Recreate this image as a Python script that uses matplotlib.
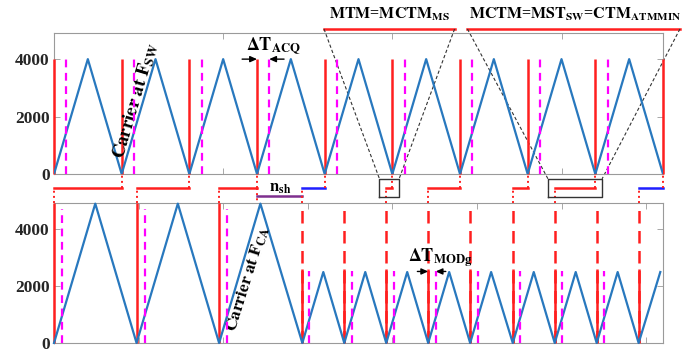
"""Carrier timing: switching carrier (F_SW) vs. control carrier (F_CA) with sampling instants."""

import matplotlib.pyplot as plt
import numpy as np

plt.rcParams["font.family"] = "Liberation Serif"
plt.rcParams["mathtext.fontset"] = "stix"

# time axis is in switching periods (1 unit = one F_SW carrier period)
T_END = 9.0
Y_MAX = 4910

# top: switching carrier
top_valley_t = [0, 1, 2, 3, 4, 5, 6, 7, 8, 9]
top_peak_t = [0.5, 1.5, 2.5, 3.5, 4.5, 5.5, 6.5, 7.5, 8.5]
top_peak_val = 4000
top_acq_t = [0.18, 1.18, 2.18, 3.18, 4.18, 5.18, 6.18, 7.18, 8.18]

# bottom: control carrier, period shortened after the n_sh transition
bot_valley_t = [0.0, 1.22, 2.44, 3.67, 4.29, 4.91, 5.53, 6.15, 6.78, 7.40, 8.02, 8.64]
bot_peak_t = [0.61, 1.83, 3.05, 3.98, 4.60, 5.22, 5.84, 6.46, 7.09, 7.71, 8.33, 8.96]
bot_peak_val = [4870, 4870, 4870, 2480, 2480, 2480, 2480, 2480, 2480, 2480, 2480, 2480]
bot_mod_top = [Y_MAX, Y_MAX, Y_MAX, 2600, 2600, 2600, 2600, 2600, 2600, 2600, 2600, 2600]
bot_acq_t = [0.12, 1.34, 2.55, 3.77, 4.40, 5.02, 5.64, 6.26, 6.89, 7.51, 8.13]
bot_acq_top = [4700, 4700, 4700, 2500, 2500, 2500, 2500, 2500, 2500, 2500, 2500]

# colour of each transfer step (one per top valley after t=0)
step_colors = ["r", "r", "r", "b", "r", "r", "r", "r", "b"]
nsh_span = (3.0, 3.67)

RED = "#ff1f1f"
BLUE = "#2878be"
MAGENTA = "#ff00ff"
PURPLE = "#7e2f8e"
STEP_BLUE = "#1f1fff"
GRID_GRAY = "#9a9a9a"


def interleave(valleys_t, valleys_v, peaks_t, peaks_v):
    t, v = [], []
    for i in range(max(len(valleys_t), len(peaks_t))):
        if i < len(valleys_t):
            t.append(valleys_t[i])
            v.append(valleys_v[i])
        if i < len(peaks_t):
            t.append(peaks_t[i])
            v.append(peaks_v[i])
    return t, v


def style_axes(ax, xticks):
    ax.set_xlim(0, T_END)
    ax.set_ylim(0, Y_MAX)
    ax.set_xticks(xticks)
    ax.set_yticks([0, 2000, 4000])
    ax.set_xticklabels([])
    ax.tick_params(direction="in", length=4, width=0.6, color=GRID_GRAY,
                   top=True, right=True, labelsize=12.5, labelcolor="#262626", pad=3)
    for lab in ax.get_yticklabels():
        lab.set_fontweight("bold")
    for sp in ax.spines.values():
        sp.set_color(GRID_GRAY)
        sp.set_linewidth(0.8)


fig = plt.figure(figsize=(6.86, 3.49), dpi=100)
ax_top = fig.add_axes([54 / 686, 1 - 174 / 349, 609 / 686, 141 / 349])
ax_bot = fig.add_axes([54 / 686, 1 - 343 / 349, 609 / 686, 140.5 / 349])

# ---- top panel ----
ax_top.vlines(top_valley_t, 0, top_peak_val, color=RED, lw=1.8, zorder=2.6, clip_on=False)
t, v = interleave(top_valley_t, [0] * len(top_valley_t), top_peak_t, [top_peak_val] * len(top_peak_t))
ax_top.plot(t, v, color=BLUE, lw=1.6, zorder=3)
ax_top.vlines(top_acq_t, 0, top_peak_val, color=MAGENTA, lw=1.6,
              linestyles=(0, (3.5, 2.5)), zorder=4)
style_axes(ax_top, [2.5, 5.0, 7.5])

# ---- bottom panel ----
n_big = sum(1 for h in bot_mod_top if h >= Y_MAX)
ax_bot.vlines(bot_valley_t, 0, bot_mod_top, color=RED, lw=1.8, zorder=2.6, clip_on=False)
ax_bot.vlines(bot_valley_t[n_big:], 0, Y_MAX, color=RED, lw=1.8,
              linestyles=(0, (5, 3)), zorder=2)
t, v = interleave(bot_valley_t, [0] * len(bot_valley_t), bot_peak_t, bot_peak_val)
ax_bot.plot(t, v, color=BLUE, lw=1.6, zorder=3, clip_on=False)
ax_bot.vlines(bot_acq_t, 0, bot_acq_top, color=MAGENTA, lw=1.6,
              linestyles=(0, (3.5, 2.5)), zorder=4)
style_axes(ax_bot, [1.25, 2.5, 3.75, 5.0, 6.25, 7.5, 8.75])

# ---- transfer steps between the panels (drawn in top-axes data units) ----
gap_bottom = ax_top.transData.inverted().transform(
    ax_bot.transData.transform((0, Y_MAX)))[1]
step_level = gap_bottom * 0.49
nsh_level = gap_bottom * 0.77

steps = []
for k, t_top in enumerate(top_valley_t[1:]):
    t_bot = max(tb for tb in bot_valley_t if tb <= t_top)
    steps.append((t_bot, t_top))
    col = RED if step_colors[k] == "r" else STEP_BLUE
    kw = dict(clip_on=False, zorder=5)
    ax_top.plot([t_bot, t_bot], [gap_bottom, step_level], color=RED, lw=1.4, ls=":", **kw)
    ax_top.plot([t_bot, t_top], [step_level, step_level], color=col, lw=1.8, **kw)
    ax_top.plot([t_top, t_top], [step_level, 0], color=RED, lw=1.4, ls=":", **kw)

ax_top.plot([nsh_span[0], nsh_span[0]], [step_level, gap_bottom], color=RED, lw=1.4,
            ls=":", clip_on=False)
ax_top.plot(nsh_span, [nsh_level, nsh_level], color=PURPLE, lw=1.8, clip_on=False)
ax_top.text(sum(nsh_span) / 2, step_level * 1.02, r"$\mathbf{n_{sh}}$", fontsize=12,
            ha="center", va="center")

# ---- zoom callouts ----
title_y = 5050
callouts = [
    (steps[4], (3.99, 5.92), 4.96, r"$\mathbf{MTM}$=$\mathbf{MCTM_{MS}}$"),
    (steps[7], (6.11, 9.25), 7.70,
     r"$\mathbf{MCTM}$=$\mathbf{MST_{SW}}$=$\mathbf{CTM_{ATMMIN}}$"),
]
for (t_bot, t_top), (x0, x1), xc, label in callouts:
    bx0, bx1 = t_bot - 0.10, t_top + 0.10
    by0, by1 = gap_bottom * 0.79, gap_bottom * 0.17
    ax_top.plot([bx0, bx1, bx1, bx0, bx0], [by0, by0, by1, by1, by0], color="#333333",
                lw=1.0, clip_on=False, zorder=6)
    ax_top.plot([x0, x1], [title_y, title_y], color=RED, lw=1.8, clip_on=False)
    ax_top.plot([x0, bx0], [title_y, by1], color="#333333", lw=0.8, ls=(0, (3, 2)),
                clip_on=False)
    ax_top.plot([x1, bx1], [title_y, by1], color="#333333", lw=0.8, ls=(0, (3, 2)),
                clip_on=False)
    ax_top.text(xc, title_y + 200, label, fontsize=11.5, fontweight="bold",
                ha="center", va="bottom")

# ---- timing annotations ----
arrow = dict(arrowstyle="-|>,head_length=0.4,head_width=0.18", color="black", lw=1.0,
             shrinkA=0, shrinkB=0)
ax_top.annotate("", xy=(top_valley_t[3], 4000), xytext=(2.78, 4000), arrowprops=arrow)
ax_top.annotate("", xy=(top_acq_t[3], 4000), xytext=(3.40, 4000), arrowprops=arrow)
ax_top.text(3.24, 4100, r"$\mathbf{\Delta T_{ACQ}}$", fontsize=13, ha="center", va="bottom")

ax_bot.annotate("", xy=(bot_valley_t[6], 2500), xytext=(5.37, 2500), arrowprops=arrow)
ax_bot.annotate("", xy=(bot_acq_t[6], 2500), xytext=(5.79, 2500), arrowprops=arrow)
ax_bot.text(5.71, 2600, r"$\mathbf{\Delta T_{MODg}}$", fontsize=13, ha="center", va="bottom")

ax_top.text(1.21, 2540, r"$\mathbf{Carrier\ at\ F_{SW}}$", fontsize=13.5, rotation=73.5,
            ha="center", va="center", rotation_mode="anchor")
ax_bot.text(2.87, 2250, r"$\mathbf{Carrier\ at\ F_{CA}}$", fontsize=12.5, rotation=72.5,
            ha="center", va="center", rotation_mode="anchor")

fig.savefig("out.png", dpi=100)
